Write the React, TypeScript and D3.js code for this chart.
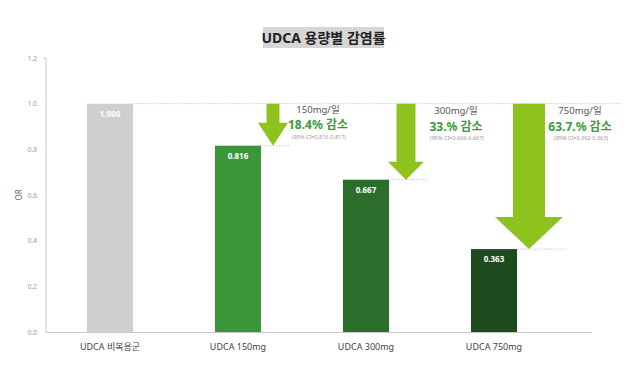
import React from "react";
import * as d3 from "d3";

const categories = ["UDCA 비복용군", "UDCA 150mg", "UDCA 300mg", "UDCA 750mg"];
const values = [1.0, 0.816, 0.667, 0.363];
const valueLabels = ["1.000", "0.816", "0.667", "0.363"];
const barColors = ["#d0cecf", "#3a9639", "#2b6e2c", "#1d4b1f"];
const yTicks = [0, 0.2, 0.4, 0.6, 0.8, 1.0, 1.2];
const doseLabels = ["150mg/일", "300mg/일", "750mg/일"];
const reductionLabels = ["18.4% 감소", "33.% 감소", "63.7.% 감소"];
const ciLabels = ["(95% CI=0.816-0.817)", "(95% CI=0.666-0.667)", "(95% CI=0.362-0.363)"];

const W = 639;
const H = 370;
const FONT = "'Noto Sans', 'Noto Sans CJK KR', sans-serif";

export default function App() {
  const x = d3.scaleBand<string>().domain(categories).range([46, 558]).paddingInner(0.64).paddingOuter(0.32);
  const y = d3.scaleLinear().domain([0, 1.2]).range([332, 58]);
  const bw = x.bandwidth();

  const arrows = [
    { cx: 273, sw: 13, hw: 30, hl: 23 },
    { cx: 406, sw: 19, hw: 36, hl: 18 },
    { cx: 529, sw: 32, hw: 68, hl: 32 },
  ];
  const textX = [318, 456, 580];

  return (
    <svg width={W} height={H} style={{ position: "absolute", left: 0, top: 0, background: "#fff" }}>
      <rect x={263} y={27} width={121} height={21} fill="#d6d6d6" />
      <text x={323.5} y={43} textAnchor="middle" fontFamily={FONT} fontWeight={700} fontSize={14} fill="#222">
        UDCA 용량별 감염률
      </text>

      <line x1={46} x2={46} y1={58} y2={332} stroke="#c8c8c8" strokeWidth={1} />
      <line x1={43} x2={46} y1={58} y2={58} stroke="#c8c8c8" strokeWidth={1} />
      {yTicks.map((t) => (
        <text key={t} x={37} y={y(t) + 2.5} textAnchor="end" fontFamily={FONT} fontSize={6.5} fill="#999">
          {d3.format(".1f")(t)}
        </text>
      ))}
      <text transform={`translate(22,${195}) rotate(-90)`} textAnchor="middle" fontFamily={FONT} fontSize={8} fill="#666">
        OR
      </text>

      <line
        x1={x(categories[0])! + bw}
        x2={622}
        y1={y(1)}
        y2={y(1)}
        stroke="#bbb"
        strokeWidth={0.8}
        strokeDasharray="1.5,1.5"
      />
      {values.slice(1).map((v, i) => (
        <line
          key={i}
          x1={x(categories[i + 1])! + bw}
          x2={arrows[i].cx + arrows[i].hw / 2 + 3}
          y1={y(v)}
          y2={y(v)}
          stroke="#bbb"
          strokeWidth={0.8}
          strokeDasharray="1.5,1.5"
        />
      ))}

      {categories.map((c, i) => (
        <g key={c}>
          <rect x={x(c)} y={y(values[i])} width={bw} height={y(0) - y(values[i])} fill={barColors[i]} />
          <text
            x={x(c)! + bw / 2}
            y={y(values[i]) + 13}
            textAnchor="middle"
            fontFamily={FONT}
            fontWeight={700}
            fontSize={8}
            fill="#fff"
          >
            {valueLabels[i]}
          </text>
          <text x={x(c)! + bw / 2} y={350} textAnchor="middle" fontFamily={FONT} fontSize={9} fill="#444">
            {c}
          </text>
        </g>
      ))}

      <line x1={46} x2={592} y1={332.5} y2={332.5} stroke="#c8c8c8" strokeWidth={1.2} />

      {arrows.map((a, i) => {
        const top = y(1);
        const tip = y(values[i + 1]);
        const hs = tip - a.hl;
        const p = [
          [a.cx - a.sw / 2, top],
          [a.cx + a.sw / 2, top],
          [a.cx + a.sw / 2, hs],
          [a.cx + a.hw / 2, hs],
          [a.cx, tip],
          [a.cx - a.hw / 2, hs],
          [a.cx - a.sw / 2, hs],
        ];
        return <path key={i} d={d3.line()(p as [number, number][])! + "Z"} fill="#8dc21f" />;
      })}

      {doseLabels.map((d, i) => (
        <g key={d}>
          <text x={textX[i]} y={113 + (i > 0 ? 1 : 0)} textAnchor="middle" fontFamily={FONT} fontSize={9.5} fill="#555">
            {d}
          </text>
          <text
            x={textX[i]}
            y={129 + (i > 0 ? 1.5 : 0)}
            textAnchor="middle"
            fontFamily={FONT}
            fontWeight={700}
            fontSize={12}
            fill="#3b9a3a"
          >
            {reductionLabels[i]}
          </text>
          <text x={textX[i] + 1} y={139 + (i > 0 ? 1 : 0)} textAnchor="middle" fontFamily={FONT} fontSize={5.5} fill="#999">
            {ciLabels[i]}
          </text>
        </g>
      ))}
    </svg>
  );
}
